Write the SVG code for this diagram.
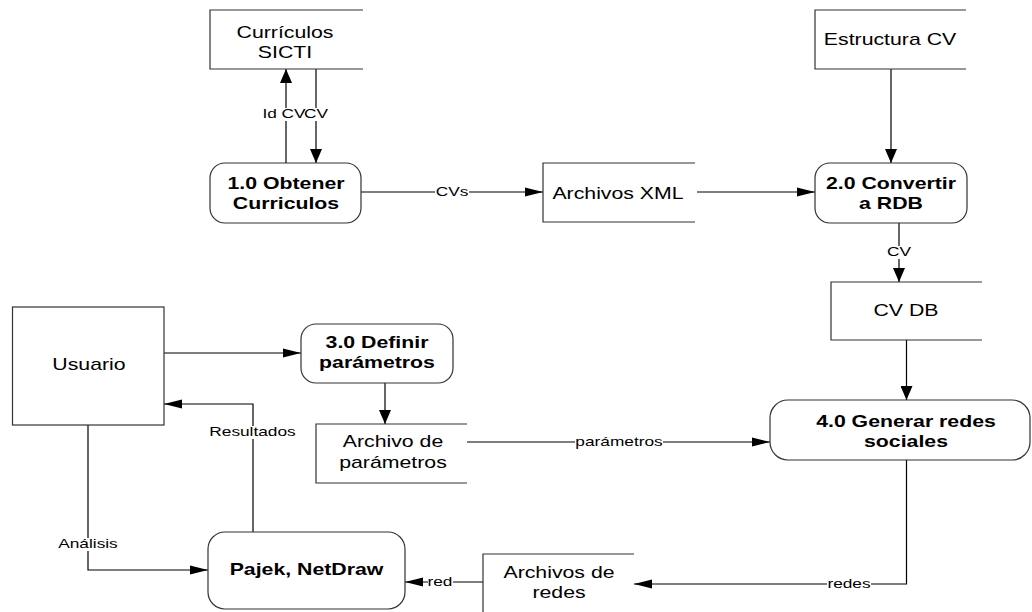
<svg xmlns="http://www.w3.org/2000/svg" width="1032" height="612" viewBox="0 0 1032 612">
<style>
  .bg{fill:#fff}
  .shape{fill:none;stroke:#333;stroke-width:1.2}
  .box{fill:#fff;stroke:#333;stroke-width:1.2}
  .conn{fill:none;stroke:#000;stroke-width:1.2}
  .lblbg{fill:#fff;stroke:none}
  text{font-family:"Liberation Sans",Arial,sans-serif;fill:#000}
  .t{font-size:16px;text-anchor:middle}
  .b{font-size:16px;font-weight:bold;text-anchor:middle}
  .l{font-size:13px;text-anchor:middle}
</style>
<defs>
  <marker id="ah" markerUnits="userSpaceOnUse" markerWidth="18" markerHeight="10" refX="18" refY="5" orient="auto">
    <path d="M0,0.5 L18,5 L0,9.5 z" fill="#000"/>
  </marker>
  <marker id="av" markerUnits="userSpaceOnUse" markerWidth="14" markerHeight="12" refX="14" refY="6" orient="auto">
    <path d="M0,0 L14,6 L0,12 z" fill="#000"/>
  </marker>
</defs>
<rect class="bg" x="0" y="0" width="1032" height="612"/>

<g id="connectors">
  <line class="conn" x1="286" y1="163" x2="286" y2="69" marker-end="url(#av)"/>
  <line class="conn" x1="316" y1="69" x2="316" y2="163" marker-end="url(#av)"/>
  <line class="conn" x1="361" y1="192" x2="543" y2="192" marker-end="url(#ah)"/>
  <line class="conn" x1="697" y1="192" x2="815" y2="192" marker-end="url(#ah)"/>
  <line class="conn" x1="891" y1="69" x2="891" y2="163" marker-end="url(#av)"/>
  <line class="conn" x1="899" y1="223" x2="899" y2="282" marker-end="url(#av)"/>
  <line class="conn" x1="906.5" y1="340" x2="906.5" y2="400" marker-end="url(#av)"/>
  <line class="conn" x1="164" y1="353" x2="301" y2="353" marker-end="url(#ah)"/>
  <line class="conn" x1="385" y1="383" x2="385" y2="424" marker-end="url(#av)"/>
  <line class="conn" x1="467" y1="442" x2="770" y2="442" marker-end="url(#ah)"/>
  <polyline class="conn" points="253,532 253,404 164,404" marker-end="url(#ah)"/>
  <polyline class="conn" points="88,425 88,570 208,570" marker-end="url(#ah)"/>
  <polyline class="conn" points="906.5,460 906.5,584 634,584" marker-end="url(#ah)"/>
  <line class="conn" x1="483" y1="582" x2="405" y2="582" marker-end="url(#ah)"/>

  <rect class="lblbg" x="263" y="108" width="42" height="13"/>
  <rect class="lblbg" x="304" y="108" width="24" height="13"/>
  <rect class="lblbg" x="435" y="186" width="34" height="13"/>
  <rect class="lblbg" x="887" y="246" width="24" height="13"/>
  <rect class="lblbg" x="575" y="436" width="88" height="13"/>
  <rect class="lblbg" x="209" y="426" width="87" height="13"/>
  <rect class="lblbg" x="58" y="538" width="60" height="13"/>
  <rect class="lblbg" x="428" y="576" width="25" height="13"/>
  <rect class="lblbg" x="827" y="577" width="44" height="13"/>

  <text class="l" transform="matrix(1.33 0 0 1 284 0)" x="0" y="118">Id CV</text>
  <text class="l" transform="matrix(1.33 0 0 1 316 0)" x="0" y="118">CV</text>
  <text class="l" transform="matrix(1.33 0 0 1 452 0)" x="0" y="196">CVs</text>
  <text class="l" transform="matrix(1.33 0 0 1 899 0)" x="0" y="256">CV</text>
  <text class="l" transform="matrix(1.33 0 0 1 619 0)" x="0" y="446">parámetros</text>
  <text class="l" transform="matrix(1.33 0 0 1 252.5 0)" x="0" y="436">Resultados</text>
  <text class="l" transform="matrix(1.33 0 0 1 88 0)" x="0" y="548">Análisis</text>
  <text class="l" transform="matrix(1.33 0 0 1 440 0)" x="0" y="586">red</text>
  <text class="l" transform="matrix(1.33 0 0 1 849 0)" x="0" y="588">redes</text>
</g>

<g id="store-curriculos">
  <path class="shape" d="M363,10 H210 V69 H363"/>
  <text class="t" transform="matrix(1.33 0 0 1 285 0)" x="0" y="38">Currículos</text>
  <text class="t" transform="matrix(1.33 0 0 1 285 0)" x="0" y="58">SICTI</text>
</g>

<g id="proc-1">
  <rect class="box" x="210" y="163" width="151" height="60" rx="15" ry="15"/>
  <text class="b" transform="matrix(1.33 0 0 1 286 0)" x="0" y="189">1.0 Obtener</text>
  <text class="b" transform="matrix(1.33 0 0 1 286 0)" x="0" y="209">Curriculos</text>
</g>

<g id="store-xml">
  <path class="shape" d="M695,163 H543 V222 H695"/>
  <text class="t" transform="matrix(1.33 0 0 1 618 0)" x="0" y="199">Archivos XML</text>
</g>

<g id="store-estructura">
  <path class="shape" d="M966,10 H815 V69 H966"/>
  <text class="t" transform="matrix(1.33 0 0 1 890 0)" x="0" y="45">Estructura CV</text>
</g>

<g id="proc-2">
  <rect class="box" x="815" y="163" width="152" height="60" rx="15" ry="15"/>
  <text class="b" transform="matrix(1.33 0 0 1 891 0)" x="0" y="189">2.0 Convertir</text>
  <text class="b" transform="matrix(1.33 0 0 1 891 0)" x="0" y="209">a RDB</text>
</g>

<g id="store-cvdb">
  <path class="shape" d="M982,282 H831 V340 H982"/>
  <text class="t" transform="matrix(1.33 0 0 1 906 0)" x="0" y="316">CV DB</text>
</g>

<g id="proc-4">
  <rect class="box" x="770" y="400" width="260" height="60" rx="18" ry="18"/>
  <text class="b" transform="matrix(1.33 0 0 1 906 0)" x="0" y="427">4.0 Generar redes</text>
  <text class="b" transform="matrix(1.33 0 0 1 906 0)" x="0" y="447">sociales</text>
</g>

<g id="ext-usuario">
  <rect class="box" x="12.5" y="307" width="151.5" height="118"/>
  <text class="t" transform="matrix(1.33 0 0 1 89 0)" x="0" y="370">Usuario</text>
</g>

<g id="proc-3">
  <rect class="box" x="301" y="324" width="152" height="59" rx="15" ry="15"/>
  <text class="b" transform="matrix(1.33 0 0 1 377 0)" x="0" y="348">3.0 Definir</text>
  <text class="b" transform="matrix(1.33 0 0 1 377 0)" x="0" y="368">parámetros</text>
</g>

<g id="store-param">
  <path class="shape" d="M467,424 H316 V483 H467"/>
  <text class="t" transform="matrix(1.33 0 0 1 393 0)" x="0" y="447">Archivo de</text>
  <text class="t" transform="matrix(1.33 0 0 1 393 0)" x="0" y="468">parámetros</text>
</g>

<g id="proc-pajek">
  <rect class="box" x="208" y="532" width="197" height="77" rx="17" ry="17"/>
  <text class="b" transform="matrix(1.33 0 0 1 306.5 0)" x="0" y="575">Pajek, NetDraw</text>
</g>

<g id="store-redes">
  <path class="shape" d="M634,554 H483 V612"/>
  <text class="t" transform="matrix(1.33 0 0 1 559 0)" x="0" y="578">Archivos de</text>
  <text class="t" transform="matrix(1.33 0 0 1 559 0)" x="0" y="598">redes</text>
</g>
</svg>
